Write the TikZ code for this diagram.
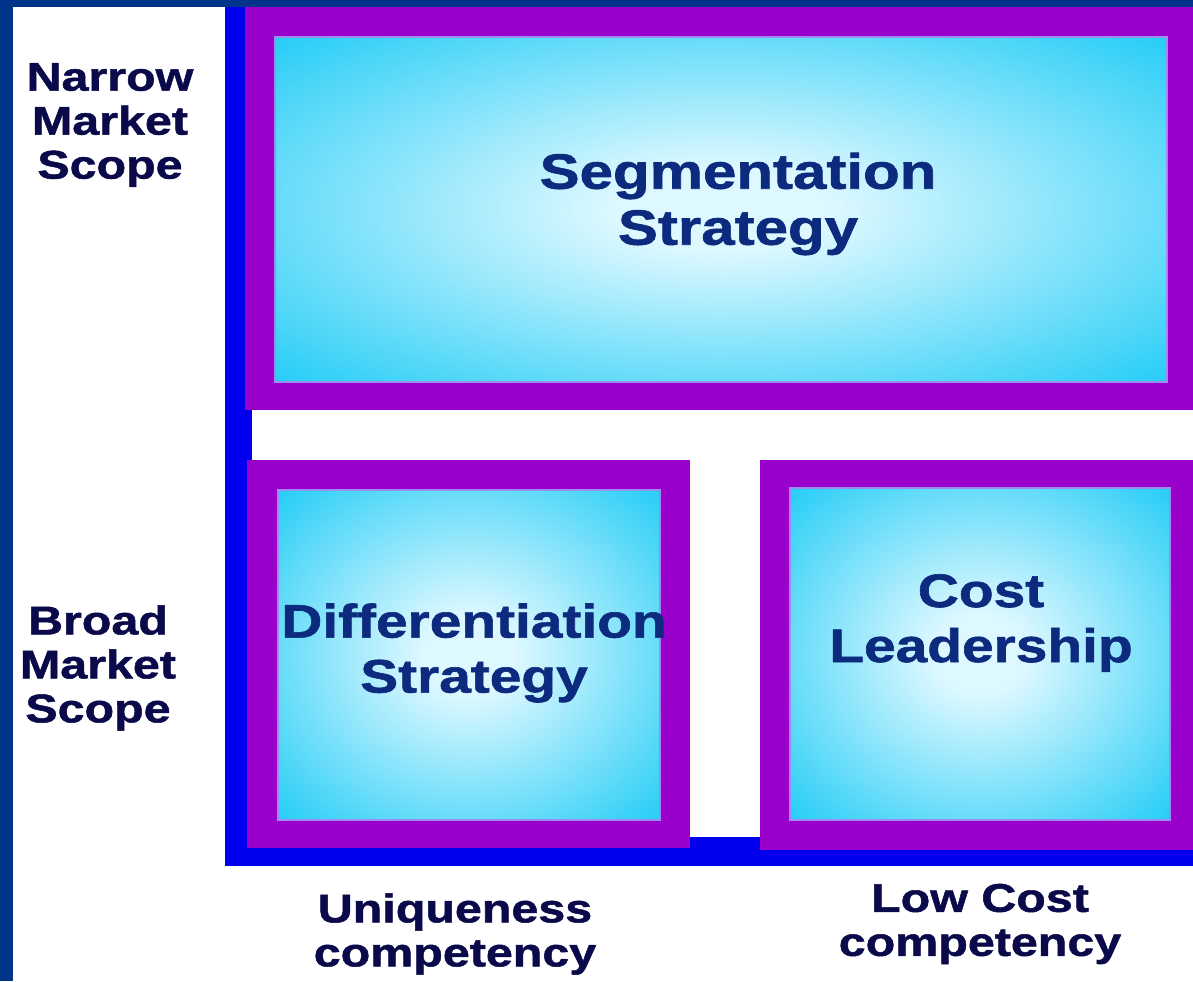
\documentclass[tikz,border=0pt]{standalone}
\usepackage{fontspec}
\setmainfont{Liberation Sans}[FakeStretch=1.21,FakeBold=1.3]
\usepackage{tikz}

\definecolor{navy}{HTML}{00338A}
\definecolor{frameblue}{HTML}{0000EE}
\definecolor{plum}{HTML}{9A00CC}
\definecolor{lavender}{HTML}{9C8CF2}
\definecolor{glowin}{HTML}{DDF8FF}
\definecolor{glowout}{HTML}{22CCF6}
\definecolor{ink}{HTML}{0C2A7E}
\definecolor{darkink}{HTML}{0A0A4A}

\pgfdeclareradialshading{glow}{\pgfpoint{0bp}{0bp}}{color(0bp)=(glowin); color(6bp)=(glowin); color(36bp)=(glowout); color(50bp)=(glowout)}

\begin{document}
\begin{tikzpicture}[x=0.5pt,y=-0.5pt,
  plumbox/.style={rectangle,fill=plum,inner sep=0pt},
  glowbox/.style={rectangle,shading=glow,draw=lavender,line width=0.7pt,inner sep=0pt},
  boxtext/.style={align=center,text=ink,font=\fontsize{23.5}{27.5}\selectfont\bfseries},
  axistext/.style={align=center,text=darkink,font=\fontsize{20}{22}\selectfont\bfseries}]
\useasboundingbox (0,0) rectangle (1193,981);

% background and frame
\fill[navy] (0,0) rectangle (1193,981);
\fill[white] (13,7) rectangle (1193,981);
\fill[frameblue] (225,7) rectangle (1193,866);
\fill[white] (252,410) rectangle (1193,837);

% the three strategy boxes
\node [plumbox,minimum width=474pt,minimum height=201.5pt] (seg) at(719,208.5){};
\node [glowbox,minimum width=446pt,minimum height=172.5pt] (segin) at(721,209.5){};

\node [plumbox,minimum width=221.5pt,minimum height=194pt] (dif) at(468.5,654){};
\node [glowbox,minimum width=191pt,minimum height=165pt] (difin) at(469,655){};

\node [plumbox,minimum width=216.5pt,minimum height=195pt] (cost) at(976.5,655){};
\node [glowbox,minimum width=190pt,minimum height=166pt] (costin) at(980,654){};

\node [boxtext,font=\fontsize{24.8}{28}\selectfont\bfseries] (segtxt) at(738,204){Segmentation\\Strategy};
\node [boxtext] (diftxt) at(474,653){Differentiation\\Strategy};
\node [boxtext] (costtxt) at(981,623){Cost\\Leadership};

% axis labels
\node [axistext] (narrow) at(110,125){Narrow\\Market\\Scope};
\node [axistext] (broad) at(98,668){Broad\\Market\\Scope};
\node [axistext] (unique) at(455,934){Uniqueness\\competency};
\node [axistext] (lowcost) at(980,924){Low Cost\\competency};
\end{tikzpicture}
\end{document}
